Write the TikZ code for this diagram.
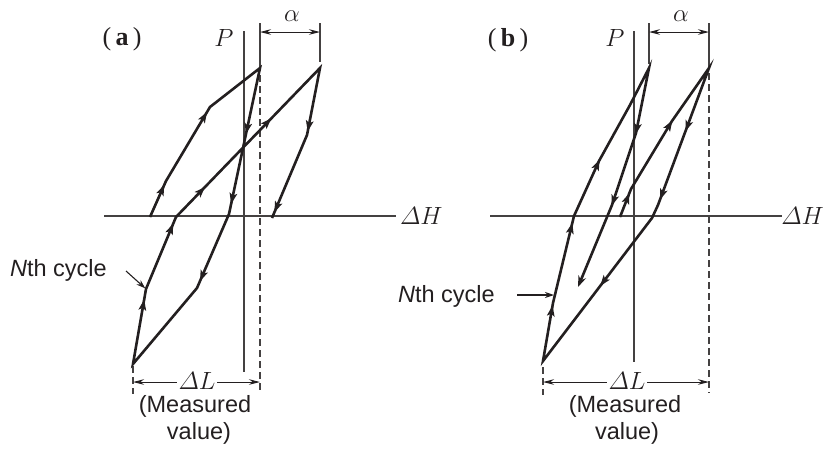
\documentclass[tikz,border=0pt]{standalone}
\usepackage{amsmath}
\usepackage{fontspec}
\newfontfamily\arialf{Liberation Sans}
\newfontfamily\timesf{Liberation Serif}
\usetikzlibrary{arrows.meta,decorations.markings}
\definecolor{ink}{RGB}{35,31,32}
\begin{document}
\begin{tikzpicture}[x=1pt,y=-1pt,
  loopln/.style={line width=2.6pt, draw=ink, line join=miter},
  axisln/.style={line width=1.1pt, draw=ink!85},
  dashln/.style={line width=1.1pt, draw=ink!85, dash pattern=on 7pt off 4pt},
  dimln/.style={line width=1pt, draw=ink, {Stealth[length=11pt,width=5.5pt]}-{Stealth[length=11pt,width=5.5pt]}},
  ptr/.style={line width=1.1pt, draw=ink, -{Stealth[length=9pt,width=6pt]}},
  ah/.style={decoration={markings, mark=at position #1 with {\fill[ink] (4.5pt,0) -- (-6.5pt,4pt) -- (-3.8pt,0) -- (-6.5pt,-4pt) -- cycle;}}, decorate},
  mlab/.style={font=\fontsize{25}{30}\selectfont, inner sep=0pt, text=ink},
  alab/.style={font=\fontsize{29}{32}\selectfont, inner sep=0pt, text=ink},
  slab/.style={font=\arialf\fontsize{23.5}{27}\selectfont, inner sep=0pt, text=ink},
  plab/.style={font=\timesf\fontsize{26}{30}\selectfont, inner sep=0pt, text=ink},
]
\useasboundingbox (0,0) rectangle (825,448);

% ================= (a) =================
\node[plab] (la) at (122,39) {(\,\textbf{a}\,)};
\draw[axisln] (104,216) -- (396,216);
\node[mlab, anchor=west] (ha) at (400,216) {$\varDelta H$};
\draw[axisln] (244,31) -- (244,372);
\node[mlab] (pa) at (224,38) {$P$};
% alpha ticks
\coordinate (ta1) at (260,23); \coordinate (ta2) at (320,23);
\draw[axisln] (ta1) -- (260,64);
\draw[axisln] (ta2) -- (320,62);
\draw[dashln] (260,64) -- (260,393);
\draw[dimln] (260,32) -- (320,32);
\node[alab] (aa) at (292,16) {$\alpha$};
% Delta L
\draw[dashln] (133,366) -- (133,394);
\draw[dimln] (133,382) -- (260,382);
\node[mlab, fill=white, inner sep=2pt] (dla) at (197,381) {$\varDelta L$};
\node[slab] (ma1) at (195,406) {(Measured};
\node[slab] (ma2) at (199,433) {value)};

% loop
\coordinate (a1) at (150,217);
\coordinate (a2) at (166,181);
\coordinate (a3) at (210,107);
\coordinate (a4) at (260,68);
\coordinate (a5) at (229,214);
\coordinate (a6) at (197,288);
\coordinate (a7) at (133,364);
\coordinate (a8) at (146,289);
\coordinate (a9) at (176,217);
\coordinate (a10) at (320,68);
\coordinate (a11) at (307,135);
\coordinate (a12) at (272,218);
\draw[loopln] (a1)--(a2)--(a3)--(a4)--(a5)--(a6)--(a7)--(a8)--(a9)--(a10)--(a11)--(a12);
\path[ah=0.78] (a1)--(a2);
\path[ah=0.88] (a2)--(a3);
\path[ah=0.42] (a4)--(a5);
\path[ah=0.9] (a4)--(a5);
\path[ah=0.85] (a5)--(a6);
\path[ah=0.8] (a7)--(a8);
\path[ah=0.85] (a8)--(a9);
\path[ah=0.18] (a9)--(a10);
\path[ah=0.64] (a9)--(a10);
\path[ah=0.88] (a10)--(a11);
\path[ah=0.88] (a11)--(a12);

\node[slab, anchor=east] (na) at (107,270) {\textit{N}th cycle};
\coordinate (na1) at (126,271);
\draw[ptr, shorten >=1pt] (na1) -- (a8);

% ================= (b) =================
\node[plab] (lb) at (508,40) {(\,\textbf{b}\,)};
\draw[axisln] (490,216) -- (782,216);
\node[mlab, anchor=east] (hb) at (824,216) {$\varDelta H$};
\draw[axisln] (634,31) -- (634,362);
\node[mlab] (pb) at (615,38) {$P$};
\coordinate (tb1) at (649,23); \coordinate (tb2) at (709,23);
\draw[axisln] (tb1) -- (649,64);
\draw[axisln] (tb2) -- (709,62);
\draw[dashln] (709,62) -- (709,393);
\draw[dimln] (649,32) -- (709,32);
\node[alab] (ab) at (681,16) {$\alpha$};
\draw[dashln] (543,367) -- (543,395);
\draw[dimln] (543,382) -- (709,382);
\node[mlab, fill=white, inner sep=2pt] (dlb) at (627,381) {$\varDelta L$};
\node[slab] (mb1) at (625,406) {(Measured};
\node[slab] (mb2) at (627,433) {value)};

\coordinate (b1) at (620,217);
\coordinate (bA) at (631,189);
\coordinate (bB) at (672,121);
\coordinate (b2) at (709,68);
\coordinate (bC) at (658,205);
\coordinate (bD) at (652,218);
\coordinate (b6) at (543,361);
\coordinate (bE) at (553,303);
\coordinate (bF) at (574,216);
\coordinate (bG) at (599,161);
\coordinate (bH) at (630,105);
\coordinate (b10) at (649,68);
\coordinate (bI) at (636,133);
\coordinate (bJ) at (612,205);
\coordinate (b13) at (578,287);
\draw[loopln, -{Stealth[length=11pt,width=8pt]}] (b1)--(bA)--(bB)--(b2)--(bC)--(bD)--(b6)--(bE)--(bF)--(bG)--(bH)--(b10)--(bI)--(bJ)--(b13);
\path[ah=0.7] (b1)--(bA);
\path[ah=0.95] (bA)--(bB);
\path[ah=0.43] (b2)--(bC);
\path[ah=0.93] (b2)--(bC);
\path[ah=0.45] (bD)--(b6);
\path[ah=0.88] (b6)--(bE);
\path[ah=0.87] (bE)--(bF);
\path[ah=0.95] (bF)--(bG);
\path[ah=0.95] (b10)--(bI);
\path[ah=0.95] (bI)--(bJ);

\node[slab, anchor=east] (nb) at (495,296) {\textit{N}th cycle};
\coordinate (nb1) at (517,295);
\coordinate (nb2) at (554,295);
\draw[ptr] (nb1) -- (nb2);
\end{tikzpicture}
\end{document}
